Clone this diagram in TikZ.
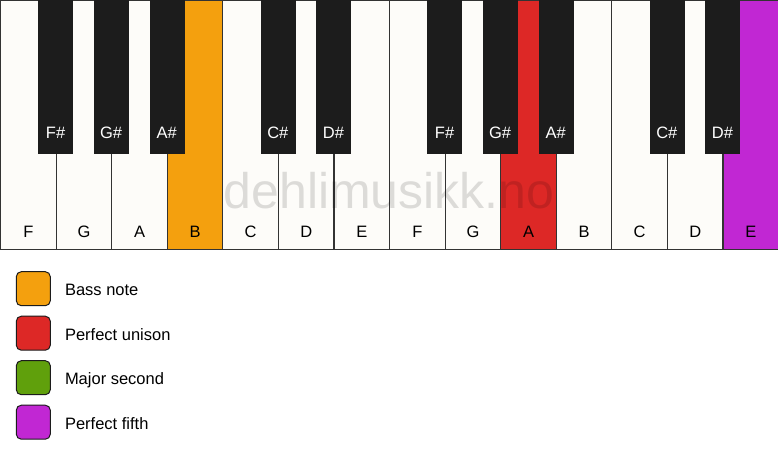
\documentclass[tikz,border=0pt]{standalone}
\usepackage{fontspec}
\setmainfont{Liberation Sans}
\definecolor{keywhite}{HTML}{FDFCF9}
\definecolor{keyblack}{HTML}{1C1C1C}
\definecolor{keyline}{HTML}{333333}
\definecolor{bassnote}{HTML}{F4A00E}
\definecolor{unison}{HTML}{DD2826}
\definecolor{second}{HTML}{60A00C}
\definecolor{fifth}{HTML}{C127D3}
\tikzset{
  whitekey/.style={draw=keyline, line width=1.2pt, fill=keywhite, minimum width=55.57pt, minimum height=249pt, inner sep=0pt, anchor=north west},
  blackkey/.style={draw=keyblack, fill=keyblack, minimum width=34pt, minimum height=153pt, inner sep=0pt, anchor=north},
  keyname/.style={font=\fontsize{16.5}{16.5}\selectfont},
  legendbox/.style={draw=keyblack, line width=1pt, rounded corners=5pt, minimum size=34pt, inner sep=0pt}
}
\begin{document}
\begin{tikzpicture}[x=1pt,y=-1pt]
  \useasboundingbox (0,0) rectangle (778,461);
  \fill[white] (0,0) rectangle (778,461);
  % white keys
  \foreach \n/\c [count=\i from 0] in {F/keywhite,G/keywhite,A/keywhite,B/bassnote,C/keywhite,D/keywhite,E/keywhite,F/keywhite,G/keywhite,A/unison,B/keywhite,C/keywhite,D/keywhite,E/fifth} {
    \node[whitekey, fill=\c] (w\i) at (\i*55.57,0) {};
    \node[keyname, anchor=base] (wn\i) at ([yshift=13pt]w\i.south) {\n};
  }
  % watermark
  \node[text=black, text opacity=0.13, font=\fontsize{50}{50}\selectfont, anchor=base] (mark) at (389,208) {dehlimusikk.no};
  % black keys
  \foreach \n/\b in {F\#/1,G\#/2,A\#/3,C\#/5,D\#/6,F\#/8,G\#/9,A\#/10,C\#/12,D\#/13} {
    \node[blackkey] (b\b) at (\b*55.57,0) {};
    \node[keyname, text=white, anchor=base] (bn\b) at ([yshift=15pt]b\b.south) {\n};
  }
  % legend
  \foreach \c/\t [count=\j from 0] in {bassnote/Bass note,unison/Perfect unison,second/Major second,fifth/Perfect fifth} {
    \node[legendbox, fill=\c] (l\j) at (33.3,288.7+\j*44.5) {};
    \node[keyname, anchor=base west, inner sep=0pt] (lt\j) at ([xshift=14pt,yshift=-7pt]l\j.east) {\t};
  }
\end{tikzpicture}
\end{document}
